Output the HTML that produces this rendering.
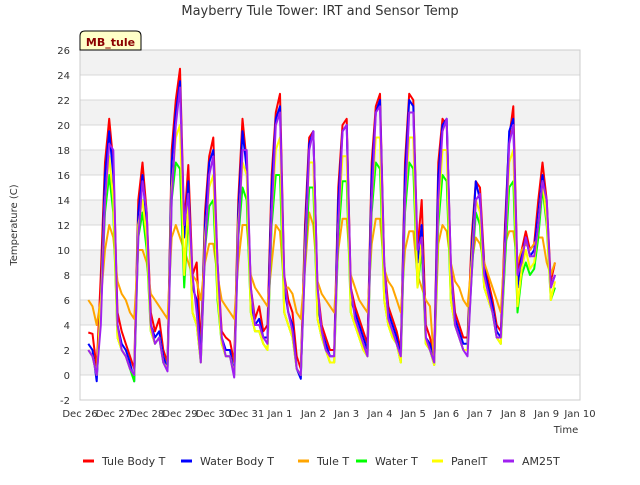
<!DOCTYPE html>
<html><head><meta charset="utf-8"><style>
body{margin:0;background:#fff;font-family:"Liberation Sans",sans-serif;}
svg text{font-family:"DejaVu Sans","Liberation Sans",sans-serif;}
</style></head><body>
<svg id="chart" width="640" height="480" viewBox="0 0 640 480">
<text x="320" y="15" text-anchor="middle" font-size="13" fill="#333">Mayberry Tule Tower: IRT and Sensor Temp</text>
<text transform="translate(17,225) rotate(-90)" text-anchor="middle" font-size="10" fill="#333">Temperature (C)</text>
<text x="566" y="433" text-anchor="middle" font-size="10" fill="#333">Time</text>
<g id="bands"></g><g id="grid"></g><g id="ticks"></g><g id="series"></g>
<g>
<path d="M80,50 L80,36 Q80,31 85,31 L136,31 Q141,31 141,36 L141,50 Z" fill="#ffffc8" stroke="#000" stroke-width="1"/>
<text x="110.5" y="46" text-anchor="middle" font-size="11" font-weight="bold" fill="#8b0000">MB_tule</text>
</g>
<g id="legend"></g>
</svg>
<script>
const NS="http://www.w3.org/2000/svg";
const yTicks=[-2,0,2,4,6,8,10,12,14,16,18,20,22,24,26];
const xTickLabels=["Dec 26","Dec 27","Dec 28","Dec 29","Dec 30","Dec 31","Jan 1","Jan 2","Jan 3","Jan 4","Jan 5","Jan 6","Jan 7","Jan 8","Jan 9","Jan 10"];
const seriesNames=["Tule Body T","Water Body T","Tule T","Water T","PanelT","AM25T"];
const seriesColors=["#ff0000","#0000ff","#ffa500","#00ff00","#ffff00","#a020f0"];
const startHour=6, stepHours=3;
const tuleBody=[3.4,3.3,0.5,8,17,20.5,
17,5,3.5,2.5,1.5,0.5,14,17,
13,5,3.5,4.5,2,1,18,22,
24.5,12,16.8,8,9,2,13,17.5,
19,9,3.5,3,2.7,1,14,20.5,
17,7,4.5,5.5,3.5,4,16,21,
22.5,8,6,5,1.5,0.5,12,19,
19.5,7,4,3,2,2,15,20,
20.5,7,5.5,4.5,3.5,2.5,17,21.5,
22.5,9,5.5,4.5,3.5,2,17,22.5,
22,10,14,4,3,1.5,17,20.5,
20,9,5,4,3,3,11,15.5,
15,9,7.5,6,4,3.5,12,19,
21.5,8,10,11.5,10,10.5,14,17,
14,7.5,9];
const waterBody=[2.5,2,-0.5,6,16,19.5,
16,4,2.5,2,1,-0.5,13,16,
12,4,3,3.5,1.5,0.5,17,21,
23.5,11,15.5,7,6,1.5,12,17,
18,8,3,2,2,0,13,19.5,
16.5,6,4,4.5,3,3,15,20.5,
21.5,7,5,4,0.5,-0.3,11,18.5,
19.5,6,3.5,2.5,1.5,1.5,14,19.5,
20,6,5,4,3,2,16,21,
22,8,5,4,3,1.5,16,22,
21.5,9,12,3,2.5,1,16,20,
20.5,8,4.5,3.5,2.5,2.5,10,15.5,
14,8.5,7,5.5,3.5,3,11,19.5,
20.5,7,9.5,11,9.5,10,13,16,
13.5,7,8];
const tuleT=[6,5.5,4,6,10,12,
11,7.5,6.5,6,5,4.5,10,10,
9,6.5,6,5.5,5,4.5,11,12,
11,10,9,8,7.5,6,9,10.5,
10.5,8,6,5.5,5,4.5,9,12,
12,8,7,6.5,6,5.5,9,12,
11.5,7,7,6.5,5,4.5,8.5,13,
12,7.5,6.5,6,5.5,5,10,12.5,
12.5,8,7,6,5.5,5,10.5,12.5,
12.5,8.5,7.5,7,6,5,10,11.5,
11.5,8,7,6,5.5,1,10.5,12,
11.5,9,7.5,7,6,5.5,9,11,
10.5,9,8,7,6,5,10.5,11.5,
11.5,9,10,10.5,10,10.5,11,11,
9,8,9];
const waterT=[2,1.5,0,5,13,16,
13,3,2,1.5,0.5,-0.5,11,13,
10,3.5,2.5,3,1,0.5,14,17,
16.5,7,13,5,4,1,10,13.5,
14,6,2.5,1.5,1.5,0,11,15,
14,5,3.5,3.5,2.5,2,12,16,
16,5,4,3,0.5,0,9,15,
15,4.5,3,2,1,1,11,15.5,
15.5,5,4,3,2,1.5,13,17,
16.5,6,4,3,2.5,1,13,17,
16.5,7,10,2.5,2,0.8,12,16,
15.5,6,4,3,2,2,8,13,
12,7,6,5,3,2.5,9,15,
15.5,5,8,9,8,8.5,11,15,
12,6,7];
const panelT=[2,1.5,0,5.5,14,17.5,
14,3,2,1.5,0.5,0,12,14,
11,3.5,2.5,3,1,0.5,15,19,
20,8,14,5,4,1,11,15,
16,6.5,2.5,1.5,1.5,0,12,17,
16,5,3.5,3.5,2.5,2,13,18,
19,5,4,3,0.5,0,10,17,
17,4.5,3,2,1,1,12,17.5,
17.5,5,4,3,2,1.5,14,19,
19,6,4,3,2.5,1,14,19,
19,7,11,2.5,2,0.8,13,18,
18,6,4,3,2,2,9,14,
13,7,6,5,3,2.5,10,17,
18,5.5,8.5,10,8.5,9,12,15.5,
12.5,6,7.5];
const am25T=[2,1.5,0,4,14,18.5,
18,4,2,1.5,0.5,0,11,15.5,
13,4,2.5,3,1,0.3,14,20,
23,12,14.5,8,5,1,10,16,
17.5,9,3,1.5,1.5,-0.2,11,18,
18,7,4,4,3,2.5,13,20,
21,8,5,3.5,0.5,0,9,18,
19.5,7,3.5,2,1.5,1.5,12,19.5,
20,7,4.5,3.5,2.5,1.5,14,21,
21.5,9,4.5,3.5,2.5,1.5,14,21,
21,10,11,3,2,1,14,19.5,
20.5,9,4,3,2,1.5,8,14,
14.5,8,6.5,5,3,3,10,18.5,
20,8,9,11,9.5,9.5,12,15.5,
14,7,8];
const allSeries=[tuleBody,waterBody,tuleT,waterT,panelT,am25T];

const X0=80,X1=580,Y0=400,Y1=50,YMIN=-2,YMAX=26,DAYS=15;
function xScale(hours){return X0+hours/(DAYS*24)*(X1-X0);}
function yScale(v){return Y0-(v-YMIN)/(YMAX-YMIN)*(Y0-Y1);}

const bands=document.getElementById('bands');
for(let v=0;v<26;v+=4){
  const r=document.createElementNS(NS,'rect');
  r.setAttribute('x',X0);r.setAttribute('width',X1-X0);
  r.setAttribute('y',yScale(v+2));r.setAttribute('height',yScale(v)-yScale(v+2));
  r.setAttribute('fill','#f2f2f2');
  
  
  bands.appendChild(r);
}
const topBand=document.createElementNS(NS,'rect');
topBand.setAttribute('x',X0);topBand.setAttribute('width',X1-X0);topBand.setAttribute('y',yScale(26));topBand.setAttribute('height',yScale(24)-yScale(26));topBand.setAttribute('fill','#f2f2f2');


bands.appendChild(topBand);

const grid=document.getElementById('grid');
const ticks=document.getElementById('ticks');
yTicks.forEach(v=>{
  const l=document.createElementNS(NS,'line');
  l.setAttribute('x1',X0);l.setAttribute('x2',X1);l.setAttribute('y1',yScale(v));l.setAttribute('y2',yScale(v));
  l.setAttribute('stroke','#d8d8d8');l.setAttribute('stroke-width','1');
  
  
  grid.appendChild(l);
  const t=document.createElementNS(NS,'text');
  t.setAttribute('x',X0-10);t.setAttribute('y',yScale(v)+4);t.setAttribute('text-anchor','end');
  t.setAttribute('font-size','10');t.setAttribute('fill','#333');
  t.textContent=v;
  
  
  ticks.appendChild(t);
});
xTickLabels.forEach((lab,i)=>{
  const x=xScale(i*24);
  const t=document.createElementNS(NS,'text');
  t.setAttribute('x',x);t.setAttribute('y',Y0+17);t.setAttribute('text-anchor','middle');
  t.setAttribute('font-size','10');t.setAttribute('fill','#333');
  t.textContent=lab;
  
  
  ticks.appendChild(t);
});
const frame=document.createElementNS(NS,'rect');
frame.setAttribute('x',X0);frame.setAttribute('y',Y1);frame.setAttribute('width',X1-X0);frame.setAttribute('height',Y0-Y1);
frame.setAttribute('fill','none');frame.setAttribute('stroke','#ccc');


grid.appendChild(frame);

const sg=document.getElementById('series');
allSeries.forEach((arr,si)=>{
  const p=document.createElementNS(NS,'polyline');
  p.setAttribute('points',arr.map((v,i)=>xScale(startHour+i*stepHours).toFixed(1)+','+yScale(v).toFixed(1)).join(' '));
  p.setAttribute('fill','none');p.setAttribute('stroke',seriesColors[si]);p.setAttribute('stroke-width','2');
  p.setAttribute('stroke-linejoin','round');
  
  
  sg.appendChild(p);
});

const lg=document.getElementById('legend');
const legX=[83,181,298,356,432,503];
seriesNames.forEach((n,i)=>{
  const g=document.createElementNS(NS,'g');
  
  
  const l=document.createElementNS(NS,'line');
  l.setAttribute('x1',legX[i]);l.setAttribute('x2',legX[i]+11);l.setAttribute('y1',461);l.setAttribute('y2',461);
  l.setAttribute('stroke',seriesColors[i]);l.setAttribute('stroke-width','3');
  g.appendChild(l);
  const t=document.createElementNS(NS,'text');
  t.setAttribute('x',legX[i]+19);t.setAttribute('y',465);t.setAttribute('font-size','11');t.setAttribute('fill','#333');
  t.textContent=n;
  g.appendChild(t);
  lg.appendChild(g);
});
</script>
</body></html>
